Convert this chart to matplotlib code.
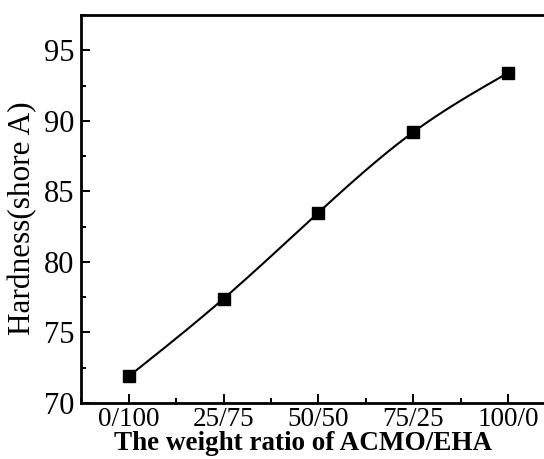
import numpy as np
import matplotlib
matplotlib.use("Agg")
import matplotlib.pyplot as plt
from matplotlib.ticker import MultipleLocator

ratios = ["0/100", "25/75", "50/50", "75/25", "100/0"]
hardness = [71.9, 77.4, 83.5, 89.2, 93.4]


def natural_spline(xk, yk, xs):
    """Natural cubic spline through (xk, yk), evaluated at xs."""
    xk = np.asarray(xk, float)
    yk = np.asarray(yk, float)
    n = len(xk)
    h = np.diff(xk)
    A = np.zeros((n, n))
    b = np.zeros(n)
    A[0, 0] = A[-1, -1] = 1.0
    for i in range(1, n - 1):
        A[i, i - 1] = h[i - 1]
        A[i, i] = 2 * (h[i - 1] + h[i])
        A[i, i + 1] = h[i]
        b[i] = 6 * ((yk[i + 1] - yk[i]) / h[i] - (yk[i] - yk[i - 1]) / h[i - 1])
    m = np.linalg.solve(A, b)
    idx = np.clip(np.searchsorted(xk, xs) - 1, 0, n - 2)
    x0, x1 = xk[idx], xk[idx + 1]
    hh = x1 - x0
    t0, t1 = x1 - xs, xs - x0
    return (m[idx] * t0 ** 3 / (6 * hh) + m[idx + 1] * t1 ** 3 / (6 * hh)
            + (yk[idx] / hh - m[idx] * hh / 6) * t0
            + (yk[idx + 1] / hh - m[idx + 1] * hh / 6) * t1)


plt.rcParams["font.family"] = ["Liberation Serif", "DejaVu Serif"]

fig = plt.figure(figsize=(5.44, 4.59), dpi=100)
ax = fig.add_axes([0.1498, 0.122, 0.871, 0.845])

x = np.arange(len(ratios))
xs = np.linspace(x[0], x[-1], 300)
ax.plot(xs, natural_spline(x, hardness, xs), color="black", lw=1.5)
ax.plot(x, hardness, linestyle="none", marker="s", markersize=8.2,
        color="black")

ax.set_xlim(-0.5, 4.5)
ax.set_ylim(70, 97.5)
ax.set_xticks(x)
ax.set_xticklabels(ratios)
ax.xaxis.set_minor_locator(MultipleLocator(0.5))
ax.yaxis.set_major_locator(MultipleLocator(5))
ax.yaxis.set_minor_locator(MultipleLocator(2.5))
ax.tick_params(which="both", direction="in", width=1.4,
               top=False, right=False)
ax.tick_params(which="major", length=6.5)
ax.tick_params(which="minor", length=3.5)
ax.tick_params(axis="x", labelsize=19.5, pad=3)
ax.tick_params(axis="y", labelsize=22, pad=5)
ax.spines["right"].set_visible(False)
for s in ("left", "bottom", "top"):
    ax.spines[s].set_linewidth(2)

ax.set_xlabel("The weight ratio of ACMO/EHA", fontsize=19.5,
              fontweight="bold")
ax.xaxis.set_label_coords(0.4686, -0.072)
ax.xaxis.label.set_va("top")
ax.set_ylabel("Hardness(shore A)", fontsize=22.5)
ax.yaxis.set_label_coords(-0.094, 0.4755)

fig.savefig("out.png", dpi=100)
